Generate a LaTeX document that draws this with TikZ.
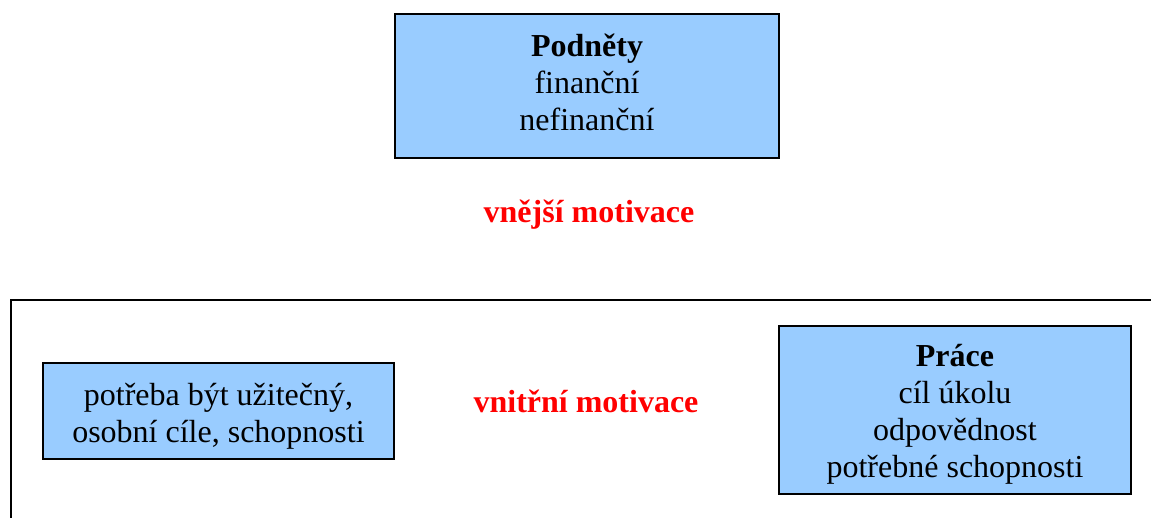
\documentclass[tikz,border=0pt]{standalone}
\usepackage{fontspec}
\setmainfont{Liberation Serif}
\definecolor{boxblue}{HTML}{99CCFF}
\tikzset{
  bluebox/.style={draw=black, line width=2.2pt, fill=boxblue, inner sep=0pt},
  boxtext/.style={align=center, font=\fontsize{32}{37}\selectfont, inner sep=0pt},
  redlabel/.style={text=red, font=\fontsize{32}{37}\selectfont\bfseries, inner sep=0pt},
}
\begin{document}
\begin{tikzpicture}[x=1pt,y=-1pt]
  \useasboundingbox (0,0) rectangle (1151,517);
  \clip (0,0) rectangle (1151,517);

  % enclosing frame of the inner motivation, open to the right and bottom
  \draw[line width=2pt] (11,540) -- (11,300) -- (1170,300);

  % incentives
  \node[bluebox, minimum width=384pt, minimum height=144pt] (podnety) at (587,86) {};
  \node[boxtext] (podnetytext) at ([yshift=4pt]podnety.center)
    {\textbf{Podněty}\\finanční\\nefinanční};

  \node[redlabel] (vnejsi) at (589,215) {vnější motivace};

  % personal needs
  \node[bluebox, minimum width=351pt, minimum height=96pt] (potreba) at (218.5,411) {};
  \node[boxtext] (potrebatext) at ([yshift=-5pt]potreba.center)
    {potřeba být užitečný,\\osobní cíle, schopnosti};

  \node[redlabel] (vnitrni) at (586,401) {vnitřní motivace};

  % the work itself
  \node[bluebox, minimum width=352pt, minimum height=168pt] (prace) at (955,410) {};
  \node[boxtext] (pracetext) at ([yshift=-4pt]prace.center)
    {\textbf{Práce}\\cíl úkolu\\odpovědnost\\potřebné schopnosti};
\end{tikzpicture}
\end{document}
